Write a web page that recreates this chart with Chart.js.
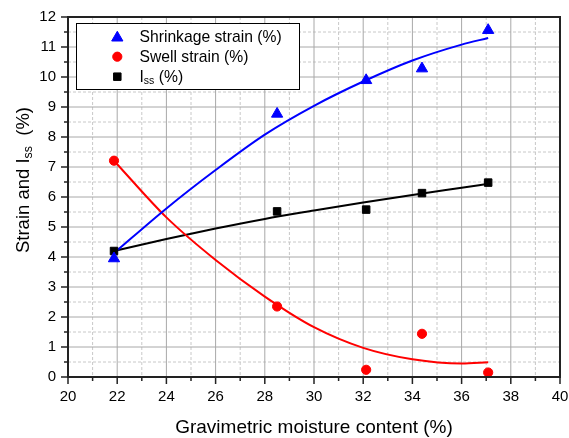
<!DOCTYPE html>
<html><head><meta charset="utf-8">
<script src="https://cdn.jsdelivr.net/npm/chart.js@4/dist/chart.umd.min.js"></script>
<style>html,body{margin:0;padding:0;background:#fff}#wrap{width:569px;height:438px;position:relative}</style>
</head><body><div id="wrap"><canvas id="c" width="569" height="438"></canvas></div>
<script>
// ---- data ----
const moisture  = [21.87, 28.5, 32.12, 34.39, 37.08];
const shrinkage = [3.95, 8.77, 9.89, 10.28, 11.56];
const swell     = [7.21, 2.35, 0.24, 1.44, 0.15];
const iss       = [4.2, 5.52, 5.58, 6.13, 6.48];
// fitted curves
const fitX      = [21.87, 24, 26, 28, 30, 32, 34, 36, 37.08];
const shrinkFit = [4.13, 5.62, 6.9, 8.08, 9.04, 9.85, 10.55, 11.08, 11.3];
const swellFit  = [7.21, 5.32, 3.9, 2.68, 1.66, 0.97, 0.59, 0.45, 0.49];
const issFit    = [4.2, 4.6, 4.95, 5.27, 5.55, 5.82, 6.07, 6.31, 6.44];
const xTickValues = [20, 22, 24, 26, 28, 30, 32, 34, 36, 38, 40];
const yTickValues = [0, 1, 2, 3, 4, 5, 6, 7, 8, 9, 10, 11, 12];
const seriesNames = ['Shrinkage strain (%)', 'Swell strain (%)', 'I|ss| (%)'];
const xTitle = 'Gravimetric moisture content (%)';
const yTitle = 'Strain and I|ss|  (%)';

const FONT = '"Liberation Sans", Arial, Helvetica, sans-serif';
const BLUE = '#0000ff', RED = '#ff0000', BLACK = '#000000';

function pts(xs, ys){ return xs.map((x,i)=>({x, y: ys[i]})); }

// draw text with |sub| subscripts, returns width
function richText(ctx, str, x, y, size, measureOnly){
  const parts = str.split('|');
  let cx = x;
  parts.forEach((p, i) => {
    const sub = i % 2 === 1;
    const fs = sub ? size * 0.67 : size;
    ctx.font = fs + 'px ' + FONT;
    if (!measureOnly) ctx.fillText(p, cx, sub ? y + size * 0.14 : y);
    cx += ctx.measureText(p).width;
  });
  return cx - x;
}

const decor = {
  id: 'decor',
  beforeDatasetsDraw(chart){
    const ctx = chart.ctx, a = chart.chartArea;
    const xs = chart.scales.x, ys = chart.scales.y;
    ctx.save();
    ctx.lineWidth = 1;
    // minor dashed
    ctx.strokeStyle = '#c8c8c8';
    ctx.setLineDash([3, 2]);
    for (let v = 21; v < 40; v += 2){
      const p = xs.getPixelForValue(v);
      ctx.beginPath(); ctx.moveTo(p, a.top); ctx.lineTo(p, a.bottom); ctx.stroke();
    }
    for (let v = 0.5; v < 12; v += 1){
      const p = ys.getPixelForValue(v);
      ctx.beginPath(); ctx.moveTo(a.left, p); ctx.lineTo(a.right, p); ctx.stroke();
    }
    // major solid
    ctx.setLineDash([]);
    ctx.strokeStyle = '#a8a8a8';
    xTickValues.forEach(v => {
      const p = xs.getPixelForValue(v);
      ctx.beginPath(); ctx.moveTo(p, a.top); ctx.lineTo(p, a.bottom); ctx.stroke();
    });
    yTickValues.forEach(v => {
      const p = ys.getPixelForValue(v);
      ctx.beginPath(); ctx.moveTo(a.left, p); ctx.lineTo(a.right, p); ctx.stroke();
    });
    ctx.restore();
  },
  afterDatasetsDraw(chart){
    const ctx = chart.ctx, a = chart.chartArea;
    const xs = chart.scales.x, ys = chart.scales.y;
    ctx.save();
    // frame
    ctx.strokeStyle = '#222';
    ctx.lineWidth = 2;
    ctx.strokeRect(a.left, a.top, a.right - a.left, a.bottom - a.top);
    // tick marks outward
    ctx.lineWidth = 1.5;
    for (let v = 20; v <= 40; v += 1){
      const p = xs.getPixelForValue(v);
      const len = (v % 2 === 0) ? 7 : 4;
      ctx.beginPath(); ctx.moveTo(p, a.bottom); ctx.lineTo(p, a.bottom + len); ctx.stroke();
    }
    for (let v = 0; v <= 12; v += 0.5){
      const p = ys.getPixelForValue(v);
      const len = (v % 1 === 0) ? 7 : 4;
      ctx.beginPath(); ctx.moveTo(a.left, p); ctx.lineTo(a.left - len, p); ctx.stroke();
    }
    // legend
    const lx = 76.5, ly = 23.5, lw = 223, lh = 66;
    ctx.fillStyle = '#fff';
    ctx.fillRect(lx, ly, lw, lh);
    ctx.strokeStyle = '#000'; ctx.lineWidth = 1;
    ctx.strokeRect(lx, ly, lw, lh);
    const rows = [36, 56.7, 76.7];
    const styles = [['triangle', BLUE, 6.5], ['circle', RED, 4.6], ['rect', BLACK, 5.3]];
    rows.forEach((ry, i) => {
      const [ps, col, r] = styles[i];
      ctx.fillStyle = col; ctx.strokeStyle = col; ctx.lineWidth = 1;
      const cy = ps === 'triangle' ? ry + 1.75 : ry;
      Chart.helpers.drawPoint(ctx, {pointStyle: ps, radius: r, borderWidth: 1, rotation: 0}, 117.3, cy);
      ctx.fillStyle = '#000';
      ctx.textBaseline = 'alphabetic'; ctx.textAlign = 'left';
      richText(ctx, seriesNames[i], 139.5, ry + 5.6, 15.7);
    });
    // axis titles
    ctx.fillStyle = '#000';
    ctx.textBaseline = 'alphabetic'; ctx.textAlign = 'left';
    const xw = richText(ctx, xTitle, 0, 0, 19, true);
    richText(ctx, xTitle, (a.left + a.right) / 2 - xw / 2, 432.7, 19);
    ctx.translate(29, 180);
    ctx.rotate(-Math.PI / 2);
    const yw = richText(ctx, yTitle, 0, 0, 18.5, true);
    richText(ctx, yTitle, -yw / 2, 0, 18.5);
    ctx.restore();
  }
};

const lineDs = (label, ys, col) => ({
  label, data: pts(fitX, ys), showLine: true, borderColor: col, backgroundColor: col,
  borderWidth: 2, pointRadius: 0, pointHoverRadius: 0, cubicInterpolationMode: 'monotone', order: 2
});
const ptDs = (label, ys, col, style, r) => ({
  label, data: pts(moisture, ys), showLine: false, borderColor: col, backgroundColor: col,
  pointStyle: style, pointRadius: r, pointBorderWidth: 1, order: 1
});

new Chart(document.getElementById('c'), {
  type: 'scatter',
  data: {
    datasets: [
      lineDs('Shrinkage fit', shrinkFit, BLUE),
      lineDs('Swell fit', swellFit, RED),
      lineDs('Iss fit', issFit, BLACK),
      ptDs(seriesNames[0], shrinkage, BLUE, 'triangle', 6.5),
      ptDs(seriesNames[1], swell, RED, 'circle', 4.6),
      ptDs(seriesNames[2], iss, BLACK, 'rect', 5.3)
    ]
  },
  options: {
    responsive: false, animation: false, devicePixelRatio: 1,
    layout: { padding: { top: 17, right: 9, left: 0, bottom: 0 } },
    plugins: { legend: { display: false }, tooltip: { enabled: false } },
    scales: {
      x: {
        type: 'linear', min: 20, max: 40,
        afterBuildTicks: s => { s.ticks = xTickValues.map(v => ({value: v})); },
        afterFit: s => { s.height = 61; s.paddingRight = 0; s.paddingLeft = 0; },
        ticks: { font: { size: 15, family: FONT }, color: '#000', padding: 3, maxRotation: 0, autoSkip: false },
        grid: { display: true, drawOnChartArea: false, drawTicks: true, tickLength: 8, color: 'rgba(0,0,0,0)', tickColor: 'rgba(0,0,0,0)' },
        border: { display: false }
      },
      y: {
        type: 'linear', min: 0, max: 12,
        afterBuildTicks: s => { s.ticks = yTickValues.map(v => ({value: v})); },
        afterFit: s => { s.width = 68; s.paddingTop = 0; s.paddingBottom = 0; },
        ticks: { font: { size: 15, family: FONT }, color: '#000', padding: 4, autoSkip: false },
        grid: { display: true, drawOnChartArea: false, drawTicks: true, tickLength: 8, color: 'rgba(0,0,0,0)', tickColor: 'rgba(0,0,0,0)' },
        border: { display: false }
      }
    }
  },
  plugins: [decor]
});
</script>
</body></html>
